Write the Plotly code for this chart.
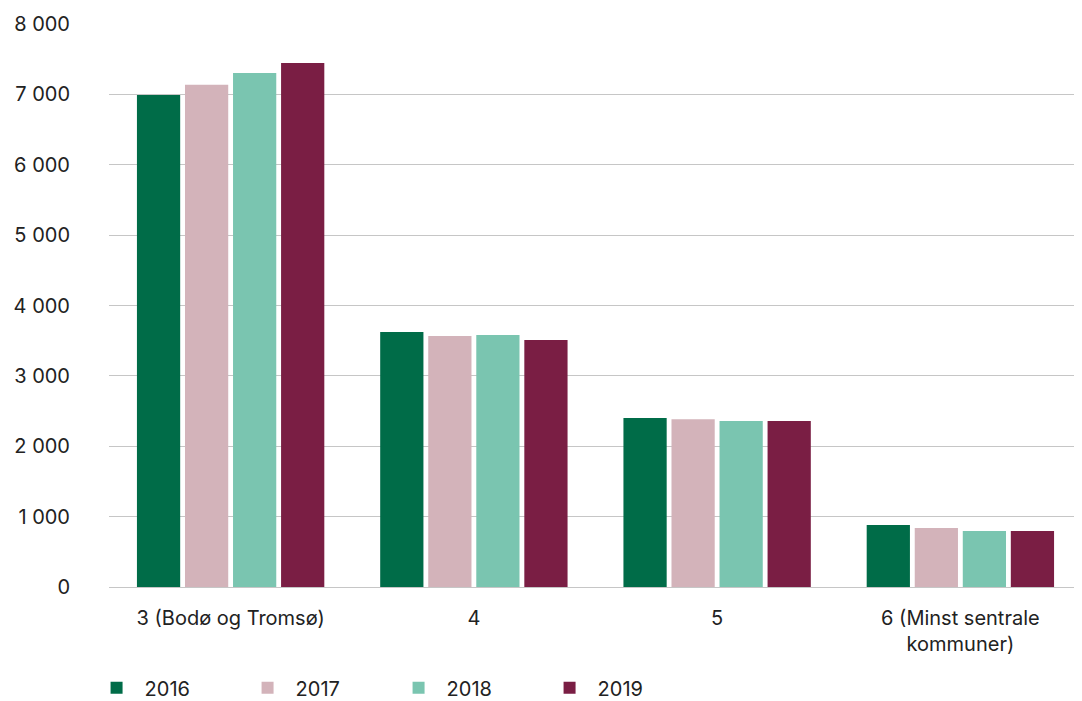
import plotly.graph_objects as go

categories = ["3 (Bodø og Tromsø)", "4", "5", "6 (Minst sentrale<br>kommuner)"]
years = ["2016", "2017", "2018", "2019"]
values_2016 = [6990, 3625, 2400, 880]
values_2017 = [7135, 3565, 2385, 838]
values_2018 = [7305, 3580, 2360, 796]
values_2019 = [7445, 3510, 2360, 796]
colors = ["#006C48", "#D3B3BA", "#7AC5B0", "#7A1E44"]

series = [values_2016, values_2017, values_2018, values_2019]

fig = go.Figure()
for name, vals, col in zip(years, series, colors):
    fig.add_trace(go.Bar(x=categories, y=vals, name=name, marker_color=col,
                         marker_line_width=0))

FS = 20
fig.update_layout(
    width=1074, height=693,
    barmode="group", bargap=0.21, bargroupgap=0.1,
    separators=", ",
    plot_bgcolor="white", paper_bgcolor="white",
    font=dict(family="Inter, sans-serif", size=FS, color="#222222"),
    margin=dict(l=101, r=0, t=16, b=114, autoexpand=False),
    yaxis=dict(range=[0, 8000], dtick=1000, tickformat=",d", showgrid=True,
               gridcolor="#C6C6C6", gridwidth=1, zeroline=True,
               zerolinecolor="#C6C6C6", zerolinewidth=1, automargin=False,
               ticks="", ticklabelstandoff=38, showline=False),
    xaxis=dict(showline=False, ticks="", automargin=False, ticklabelstandoff=17),
    legend=dict(orientation="h", x=-0.021, xanchor="left", y=-0.179, yanchor="middle",
                entrywidth=90, itemwidth=46, font=dict(size=FS)),
    showlegend=True,
)

fig.write_html("out.html")
